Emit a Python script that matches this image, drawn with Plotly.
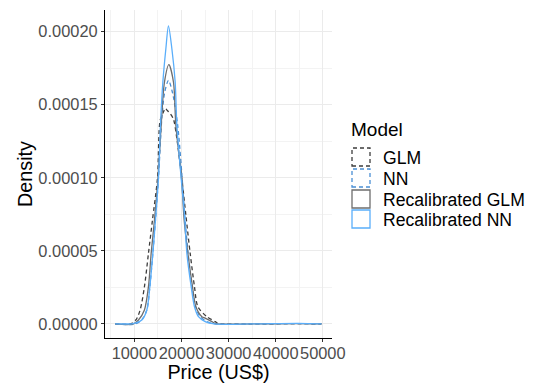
import plotly.graph_objects as go

# Kernel density estimates of predicted price, one curve per model
glm_x = [5900, 9086, 10298, 11211, 12125, 12975, 13825, 14888, 15461, 16163, 16524,
         17000, 17586, 18300, 19000, 20073, 20923, 21836, 22750, 23473, 25385, 27149,
         27786, 35000, 44800, 49700]
glm_y = [0, 0, 0.0000027, 0.0000096, 0.0000255, 0.0000483, 0.000071, 0.0000995,
         0.0001393, 0.000145, 0.0001475, 0.000146, 0.000144, 0.000140, 0.000127,
         0.0000995, 0.0000744, 0.0000483, 0.0000255, 0.0000118, 0.000005, 0.0000016,
         0.0000003, 0, 0.0000003, 0]

nn_x = [5900, 10150, 11573, 12635, 13273, 13910, 14463, 15100, 15823, 16400, 17225,
        18100, 19180, 20136, 20770, 21400, 22250, 23000, 23960, 25500, 27500, 35000,
        44800, 49700]
nn_y = [0, 0, 0.000003, 0.0000096, 0.0000255, 0.0000483, 0.000071, 0.0000995,
        0.000141, 0.000158, 0.0001667, 0.000158, 0.000136, 0.0000995, 0.000071,
        0.0000483, 0.0000255, 0.0000118, 0.000005, 0.0000015, 0, 0, 0.0000003, 0]

rglm_x = [5900, 9788, 10850, 12125, 12975, 13549, 14250, 15000, 15674, 16375, 17310,
          18288, 18798, 20000, 20561, 21348, 22325, 23048, 24323, 25000, 26448, 27149,
          35000, 44800, 49700]
rglm_y = [0, 0, 0.0000027, 0.0000096, 0.0000255, 0.0000483, 0.000071, 0.0000995,
          0.0001359, 0.0001655, 0.0001774, 0.0001655, 0.0001359, 0.0000995, 0.000071,
          0.0000483, 0.0000255, 0.0000118, 0.000005, 0.000004, 0.0000016, 0.0000003,
          0, 0.0000003, 0]

rnn_x = [5900, 9500, 10150, 11573, 12635, 13273, 13910, 14463, 15100, 15525, 16035,
         16673, 17225, 17948, 18649, 19010, 19924, 20625, 21135, 22049, 22750, 23600,
         25024, 27000, 35000, 44800, 49700]
rnn_y = [0, 0.0000001, 0.0000005, 0.0000027, 0.0000096, 0.0000255, 0.0000483,
         0.000071, 0.0000995, 0.0001359, 0.0001655, 0.0001883, 0.000204, 0.0001883,
         0.0001655, 0.0001359, 0.0000995, 0.0000744, 0.0000483, 0.0000255, 0.0000118,
         0.000005, 0.0000016, 0, 0, 0.0000004, 0]

x_ticks = [10000, 20000, 30000, 40000, 50000]
y_ticks = [0, 0.00005, 0.0001, 0.00015, 0.0002]

models = ["GLM", "NN", "Recalibrated GLM", "Recalibrated NN"]
colors = ["#3d3d3d", "#4a8fd4", "#6e6e6e", "#5aaefa"]
dashes = ["4px,3px", "4px,3px", "solid", "solid"]
series = [(glm_x, glm_y), (nn_x, nn_y), (rglm_x, rglm_y), (rnn_x, rnn_y)]

FONT = "Liberation Sans, Arial, sans-serif"

fig = go.Figure()
for name, (xs, ys), c, d in zip(models, series, colors, dashes):
    fig.add_trace(go.Scatter(
        x=xs, y=ys, mode="lines", name=name, showlegend=False,
        line=dict(color=c, dash=d, width=1.3, shape="spline", smoothing=0.8),
    ))

# Legend drawn as outlined key boxes, in the style of the density legend
PX0, PX1, PY0, PY1 = 105, 332, 10, 338
key_top = [148, 169, 190, 210]
shapes = []
annotations = []
for name, c, d, top in zip(models, colors, dashes, key_top):
    shapes.append(dict(
        type="rect", xref="paper", yref="paper",
        x0=(352 - PX0) / (PX1 - PX0), x1=(370 - PX0) / (PX1 - PX0),
        y0=(PY1 - (top + 18)) / (PY1 - PY0), y1=(PY1 - top) / (PY1 - PY0),
        line=dict(color=c, width=1.3, dash=d),
        fillcolor="rgba(0,0,0,0)",
    ))
    annotations.append(dict(
        text=name, xref="paper", yref="paper",
        x=(381 - PX0) / (PX1 - PX0), y=(PY1 - (top + 9.5)) / (PY1 - PY0),
        xanchor="left", yanchor="middle", showarrow=False,
        font=dict(size=17.6, color="#000000", family=FONT),
    ))
annotations.append(dict(
    text="Model", xref="paper", yref="paper",
    x=(349 - PX0) / (PX1 - PX0), y=(PY1 - 129) / (PY1 - PY0),
    xanchor="left", yanchor="middle", showarrow=False,
    font=dict(size=19, color="#000000", family=FONT),
))

fig.update_layout(
    width=548, height=383,
    margin=dict(l=PX0, r=548 - PX1, t=PY0, b=383 - PY1, autoexpand=False),
    paper_bgcolor="white", plot_bgcolor="white",
    font=dict(family=FONT, color="#4d4d4d"),
    shapes=shapes, annotations=annotations,
    showlegend=False,
)
fig.update_xaxes(
    range=[3750, 51950], tickvals=x_ticks, ticktext=[str(v) for v in x_ticks],
    tickangle=0, automargin=False, ticklabelstandoff=-3,
    showgrid=True, gridcolor="#ebebeb", gridwidth=1.2,
    minor=dict(dtick=5000, tick0=0, showgrid=True, gridcolor="#f3f3f3", gridwidth=0.8),
    showline=True, linecolor="#000000", linewidth=1.2,
    ticks="outside", ticklen=3, tickcolor="#333333",
    tickfont=dict(size=16.4, color="#4d4d4d"),
    title=dict(text="Price (US$)", font=dict(size=19.8, color="#000000"), standoff=5),
    zeroline=False,
)
fig.update_yaxes(
    range=[-0.0000096, 0.0002148], tickvals=y_ticks,
    ticktext=["0.00000", "0.00005", "0.00010", "0.00015", "0.00020"],
    automargin=False,
    showgrid=True, gridcolor="#ebebeb", gridwidth=1.2,
    minor=dict(dtick=0.000025, tick0=0, showgrid=True, gridcolor="#f3f3f3", gridwidth=0.8),
    showline=True, linecolor="#000000", linewidth=1.2,
    ticks="outside", ticklen=3, tickcolor="#333333",
    tickfont=dict(size=16.4, color="#4d4d4d"),
    title=dict(text="Density", font=dict(size=19.8, color="#000000"), standoff=0),
    zeroline=False,
)

fig.write_html("out.html")
